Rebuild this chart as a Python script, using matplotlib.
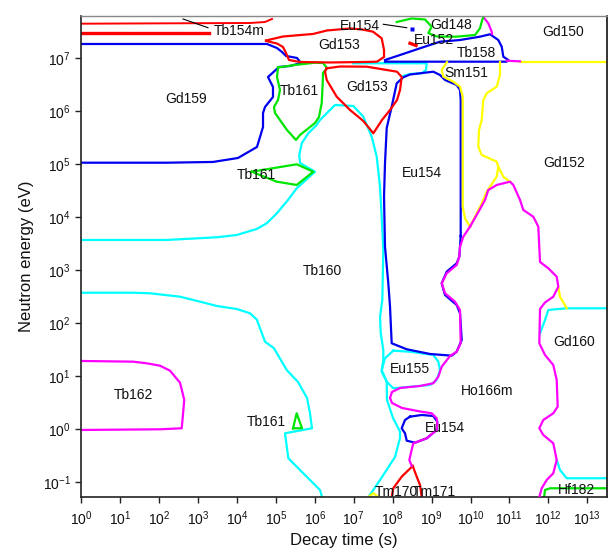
import numpy as np
import matplotlib
matplotlib.use("Agg")
import matplotlib.pyplot as plt
from matplotlib.ticker import NullLocator

plt.rcParams['font.family'] = ['Liberation Sans', 'DejaVu Sans']
plt.rcParams['mathtext.default'] = 'regular'

# ---- data: curves as (log10 decay time [s], log10 neutron energy [eV]) ----
X_TICK_EXPONENTS = list(range(0, 14))
Y_TICK_EXPONENTS = list(range(-1, 8))

TB154M_THIN = [(0, 7.651), (4.334, 7.664), (4.72, 7.683), (4.9, 7.74)]
TB154M_THICK = [(0, 7.481), (3.28, 7.481)]
TB154M_LEADER = [(2.613, 7.74), (3.255, 7.575)]

GD159 = [(0, 7.268), (4.771, 7.268), (5.028, 7.192), (5.157, 7.117), (5.26, 7.042),
         (5.542, 7.004), (5.645, 6.909), (5.362, 6.853), (5.08, 6.834), (4.797, 6.645),
         (4.925, 6.457), (4.925, 6.268), (4.72, 6.079), (4.669, 5.966), (4.669, 5.702),
         (4.514, 5.325), (4.026, 5.117), (3.384, 5.042), (2.202, 5.028), (0, 5.028)]

GD153_UP = [(4.746, 7.334), (5.182, 7.409), (5.954, 7.457), (6.313, 7.523), (6.904, 7.56),
            (7.212, 7.542), (7.495, 7.5), (7.718, 7.375), (7.778, 7.155), (7.778, 7.023),
            (7.598, 6.934), (7.238, 6.928), (6.39, 6.919), (5.619, 6.928), (5.337, 6.966),
            (5.26, 7.098), (5.182, 7.211), (5.028, 7.277), (4.746, 7.325)]

TB161_UP = [(5.054, 6.825), (5.491, 6.872), (6.005, 6.915), (6.21, 6.909), (6.313, 6.815),
            (6.21, 6.721), (6.203, 6.532), (6.177, 6.155), (6.107, 5.891), (6.005, 5.777),
            (5.619, 5.551), (5.516, 5.457), (5.285, 5.645), (4.977, 5.966), (4.951, 6.079),
            (5.054, 6.211), (5.105, 6.4), (5.028, 6.645), (5.054, 6.825)]

GD153_LOW = [(6.305, 6.809), (6.647, 6.843), (7.333, 6.84), (8.112, 6.745), (8.232, 6.645),
             (8.189, 6.4), (8.112, 6.211), (7.932, 6.023), (7.726, 5.834), (7.503, 5.583),
             (7.246, 5.815), (6.904, 6.023), (6.562, 6.274), (6.305, 6.589), (6.262, 6.745),
             (6.305, 6.809)]

TB161_MID = [(4.378, 4.858), (5.534, 4.998), (5.961, 4.858), (5.534, 4.608), (5.021, 4.67),
             (4.378, 4.858)]
TB161_LOW = [(5.44, 0.017), (5.534, 0.3), (5.671, 0.017), (5.44, 0.017)]

TB160_UPPER = [(0, 3.57), (2.194, 3.57), (3.479, 3.621), (3.993, 3.664), (4.507, 3.777),
               (4.764, 3.885), (5.021, 4.07), (5.311, 4.325), (5.534, 4.545), (6.005, 4.858),
               (5.619, 5.023), (5.601, 5.174), (5.663, 5.394), (5.833, 5.583), (6.048, 5.74),
               (6.133, 5.834), (6.518, 6.117), (6.989, 6.098), (7.246, 5.896), (7.462, 5.519),
               (7.59, 5.142), (7.675, 4.575), (7.718, 4.009), (7.76, 3.381), (7.734, 2.438),
               (7.675, 2.123), (7.693, 1.809), (7.76, 1.494), (7.76, 1.306), (7.718, 1.085),
               (7.847, 0.896), (7.854, 0.551), (8.009, 0.211), (8.189, -0.047), (8.189, -0.166),
               (8.06, -0.525), (7.726, -0.902), (7.503, -1.147), (7.374, -1.28)]

TB160_LOWER = [(0, 2.575), (1.336, 2.575), (1.765, 2.564), (2.536, 2.5), (3.05, 2.406),
               (3.479, 2.325), (3.993, 2.268), (4.334, 2.187), (4.507, 2.07), (4.72, 1.651),
               (4.951, 1.526), (5.277, 1.117), (5.568, 0.891), (5.799, 0.589), (5.876, 0.3),
               (5.927, 0.017), (5.234, -0.077), (5.319, -0.549), (5.619, -0.77), (6.133, -1.147),
               (6.185, -1.28)]

CYAN_TOP = [(6.989, 6.904), (8.875, 6.904), (8.857, 6.777), (8.746, 6.715), (8.446, 6.702),
            (8.266, 6.664)]

EU154_BIG = [(9.748, 3.645), (9.748, 5.457), (9.748, 6.211), (9.73, 6.4), (9.645, 6.494),
             (9.345, 6.589), (9.216, 6.683), (9.044, 6.745), (8.703, 6.715), (8.446, 6.692),
             (8.273, 6.64), (8.104, 6.526), (7.975, 6.085), (7.847, 5.683), (7.803, 5.017),
             (7.778, 4.387), (7.803, 3.443), (7.888, 2.753), (7.932, 2.311), (7.975, 1.621),
             (8.361, 1.508), (8.959, 1.419), (9.517, 1.387), (9.645, 1.462), (9.774, 1.683),
             (9.73, 2.187), (9.645, 2.343), (9.345, 2.532), (9.26, 2.753), (9.389, 2.972),
             (9.645, 3.13), (9.712, 3.255), (9.73, 3.443), (9.748, 3.645)]

EU155 = [(8.016, 1.481), (8.446, 1.462), (9.044, 1.4), (9.173, 1.274), (9.216, 1.117),
         (9.132, 0.928), (8.959, 0.834), (8.016, 0.772), (7.847, 0.896), (7.718, 1.117),
         (7.803, 1.338), (8.016, 1.481)]

TB158 = [(7.803, 6.966), (8.189, 7.06), (8.703, 7.187), (9.216, 7.311), (9.73, 7.343),
         (10.244, 7.406), (10.501, 7.451), (10.714, 7.343), (10.802, 7.217), (10.843, 7.028),
         (10.971, 6.966), (10.93, 6.934), (7.803, 6.934)]

YELLOW_TOP = [(11.272, 6.934), (13.51, 6.934)]
MAGENTA_TOP_SMALL = [(10.93, 6.953), (11.272, 6.94)]

SM151_LEFT = [(9.396, 6.928), (9.345, 6.872), (9.26, 6.777), (9.301, 6.651), (9.558, 6.557),
              (9.73, 6.462), (9.80, 6.274), (9.80, 4.198), (9.859, 3.979), (9.987, 3.821)]
SM151_RIGHT = [(10.758, 6.928), (10.758, 6.683), (10.673, 6.462), (10.416, 6.338),
               (10.329, 6.211), (10.288, 5.834), (10.218, 5.645), (10.2, 5.33), (10.288, 5.174),
               (10.673, 5.047), (10.714, 4.953), (10.673, 4.764), (10.416, 4.481),
               (10.288, 4.262), (10.116, 4.009), (9.987, 3.821)]
SM151_BRANCH = [(10.714, 4.953), (10.843, 4.764), (11.015, 4.67)]

HO166M_LEFT = [(9.987, 3.821), (9.815, 3.632), (9.73, 3.443), (9.712, 3.255), (9.645, 3.098),
               (9.389, 2.942), (9.26, 2.753), (9.345, 2.564), (9.602, 2.406), (9.73, 2.249),
               (9.748, 1.621), (9.645, 1.462), (9.473, 1.381), (9.26, 1.179), (9.173, 0.991),
               (9.044, 0.866), (8.703, 0.815), (8.189, 0.777), (7.983, 0.702), (7.932, 0.589),
               (7.983, 0.494), (8.24, 0.4), (8.703, 0.334), (9.003, 0.3), (9.132, 0.206),
               (9.147, 0.098), (9.132, -0.015), (8.875, -0.172), (8.53, -0.266), (8.489, -0.392),
               (8.428, -0.581), (8.489, -0.694)]
HO166M_RIGHT = [(9.987, 3.821), (10.159, 4.042), (10.373, 4.325), (10.457, 4.513),
                (10.673, 4.608), (11.015, 4.67), (11.1, 4.608), (11.272, 4.325), (11.357, 4.136),
                (11.613, 4.009), (11.742, 3.821), (11.786, 3.155), (11.999, 3.036),
                (12.215, 2.877), (12.256, 2.689), (12.127, 2.5), (11.914, 2.391), (11.786, 2.268),
                (11.768, 1.621), (11.914, 1.4), (12.127, 1.211), (12.215, 0.928), (12.24, 0.425),
                (12.127, 0.3), (11.87, 0.174), (11.768, 0.017), (11.87, -0.109), (12.127, -0.266),
                (12.215, -0.581), (12.127, -0.832), (11.958, -0.958), (11.829, -1.115),
                (11.768, -1.28)]
MAGENTA_GD148 = [(10.329, 7.777), (10.457, 7.659), (10.545, 7.5), (10.553, 7.457)]

GD160_CYAN = [(11.786, 1.809), (11.914, 2.06), (11.999, 2.249), (12.472, 2.281), (13.51, 2.281)]
GD160_YELLOW = [(12.256, 2.689), (12.299, 2.5), (12.472, 2.281)]
CYAN_BOTTOM_RIGHT = [(12.215, -0.581), (12.299, -0.77), (12.472, -0.926), (13.51, -0.926)]
HF182 = [(11.892, -1.28), (11.914, -1.147), (12.043, -1.115), (13.51, -1.115)]

TM170_RED = [(7.975, -1.28), (8.016, -1.115), (8.232, -0.896), (8.515, -0.694)]
TM171_RED = [(8.515, -0.694), (8.618, -0.896), (8.703, -1.053), (8.746, -1.28)]
TM_YELLOW = [(7.374, -1.28), (7.503, -1.209), (7.631, -1.28)]

EU154_SMALL = [(8.446, 0.236), (8.746, 0.268), (9.044, 0.249), (9.147, 0.142), (9.132, -0.015),
               (8.875, -0.172), (8.574, -0.255), (8.361, -0.217), (8.317, -0.077),
               (8.232, 0.017), (8.317, 0.174), (8.446, 0.236)]

TB162 = [(0, 1.287), (1.336, 1.274), (1.68, 1.243), (2.022, 1.198), (2.279, 1.104),
         (2.536, 0.877), (2.646, 0.551), (2.58, 0.017), (2.022, -0.002), (0, -0.015)]

GD148 = [(8.104, 7.683), (8.489, 7.749), (8.831, 7.730), (9.003, 7.594), (8.917, 7.475),
         (9.132, 7.409), (9.645, 7.406), (10.116, 7.438), (10.244, 7.564), (10.288, 7.689),
         (10.329, 7.777)]
EU154_LEADER = [(7.76, 7.64), (8.361, 7.575)]
EU152_RED = [(8.446, 7.281), (8.6, 7.24)]
EU152_DOT = [(8.489, 7.545)]

LABELS = ["Tb154m", "Gd153", "Eu154", "Gd148", "Eu152", "Gd150", "Tb158", "Sm151",
          "Gd159", "Tb161", "Gd153", "Tb161", "Eu154", "Gd152", "Tb160", "Gd160",
          "Eu155", "Ho166m", "Tb162", "Tb161", "Eu154", "Tm170", "Tm171", "Hf182"]
LABEL_X = [4.057, 6.621, 7.153, 9.499, 9.054, 12.384, 10.159, 9.884,
           2.69, 5.611, 7.346, 4.507, 8.746, 12.402, 6.184, 12.672,
           8.438, 10.424, 1.346, 4.764, 9.332, 8.086, 9.075, 12.736]
LABEL_Y = [7.504, 7.249, 7.608, 7.626, 7.343, 7.5, 7.104, 6.715,
           6.221, 6.381, 6.462, 4.796, 4.84, 5.017, 2.991, 1.64,
           1.13, 0.726, 0.645, 0.142, 0.028, -1.185, -1.185, -1.147]

RED = '#ff0000'
BLUE = '#0000ee'
CYAN = '#00ffff'
GREEN = '#00e600'
MAGENTA = '#ff00ff'
YELLOW = '#ffff00'

fig = plt.figure(figsize=(6.08, 5.58), dpi=100)
ax = fig.add_axes([81.3 / 608, 1 - 496.7 / 558, (607 - 81.3) / 608, (496.7 - 16) / 558])
ax.set_xscale('log')
ax.set_yscale('log')


def draw(pts, color, lw=1.6, z=2):
    xs = np.power(10.0, [p[0] for p in pts])
    ys = np.power(10.0, [p[1] for p in pts])
    ax.plot(xs, ys, color=color, lw=lw, zorder=z, solid_joinstyle='round')


draw(TB160_UPPER, CYAN)
draw(TB160_LOWER, CYAN)
draw(CYAN_TOP, CYAN)
draw(EU155, CYAN)
draw(GD160_CYAN, CYAN)
draw(CYAN_BOTTOM_RIGHT, CYAN)

draw(GD159, BLUE)
draw(EU154_BIG, BLUE)
draw(TB158, BLUE)
draw(EU154_SMALL, BLUE)

draw(SM151_LEFT, YELLOW)
draw(SM151_RIGHT, YELLOW)
draw(SM151_BRANCH, YELLOW)
draw(YELLOW_TOP, YELLOW)
draw(GD160_YELLOW, YELLOW)
draw(TM_YELLOW, YELLOW)

draw(HO166M_LEFT, MAGENTA, z=3)
draw(HO166M_RIGHT, MAGENTA, z=3)
draw(MAGENTA_GD148, MAGENTA)
draw(MAGENTA_TOP_SMALL, MAGENTA)
draw(TB162, MAGENTA)

draw(TB161_UP, GREEN)
draw(TB161_MID, GREEN)
draw(TB161_LOW, GREEN)
draw(GD148, GREEN)
draw(HF182, GREEN)

draw(GD153_UP, RED)
draw(GD153_LOW, RED)
draw(TB154M_THIN, RED, lw=1.4)
draw(TB154M_THICK, RED, lw=2.4)
draw(TM170_RED, RED)
draw(TM171_RED, RED)
draw(EU152_RED, RED, lw=2.4)

draw(TB154M_LEADER, 'black', lw=0.8)
draw(EU154_LEADER, 'black', lw=0.8)
ax.plot(10 ** EU152_DOT[0][0], 10 ** EU152_DOT[0][1], marker='s', ms=2.2, color=BLUE,
        mec='none', zorder=4)

for s, lx, ly in zip(LABELS, LABEL_X, LABEL_Y):
    ax.text(10 ** lx, 10 ** ly, s, ha='center', va='center', fontsize=10,
            color='#111111', zorder=5)

ax.set_xlim(1, 10 ** 13.507)
ax.set_ylim(10 ** -1.274, 10 ** 7.796)

ax.set_xticks([10.0 ** e for e in X_TICK_EXPONENTS])
ax.set_xticklabels([r'$10^{%d}$' % e for e in X_TICK_EXPONENTS])
ax.set_yticks([10.0 ** e for e in Y_TICK_EXPONENTS])
ax.set_yticklabels([r'$10^{%d}$' % e for e in Y_TICK_EXPONENTS])
ax.xaxis.set_minor_locator(NullLocator())
ax.yaxis.set_minor_locator(NullLocator())
ax.tick_params(axis='both', which='major', direction='out', length=4, width=1,
               labelsize=10, color='#222222', labelcolor='#111111')
ax.tick_params(axis='x', pad=5)

for side in ['left', 'bottom']:
    ax.spines[side].set_color('#222222')
    ax.spines[side].set_linewidth(1.2)
ax.spines['top'].set_color('#888888')
ax.spines['top'].set_linewidth(1.0)
ax.spines['right'].set_color('#111111')
ax.spines['right'].set_linewidth(1.2)

ax.set_xlabel('Decay time (s)', fontsize=12, labelpad=4, color='#111111')
ax.set_ylabel('Neutron energy (eV)', fontsize=12, labelpad=6, color='#111111')

fig.savefig('out.png', dpi=100)
